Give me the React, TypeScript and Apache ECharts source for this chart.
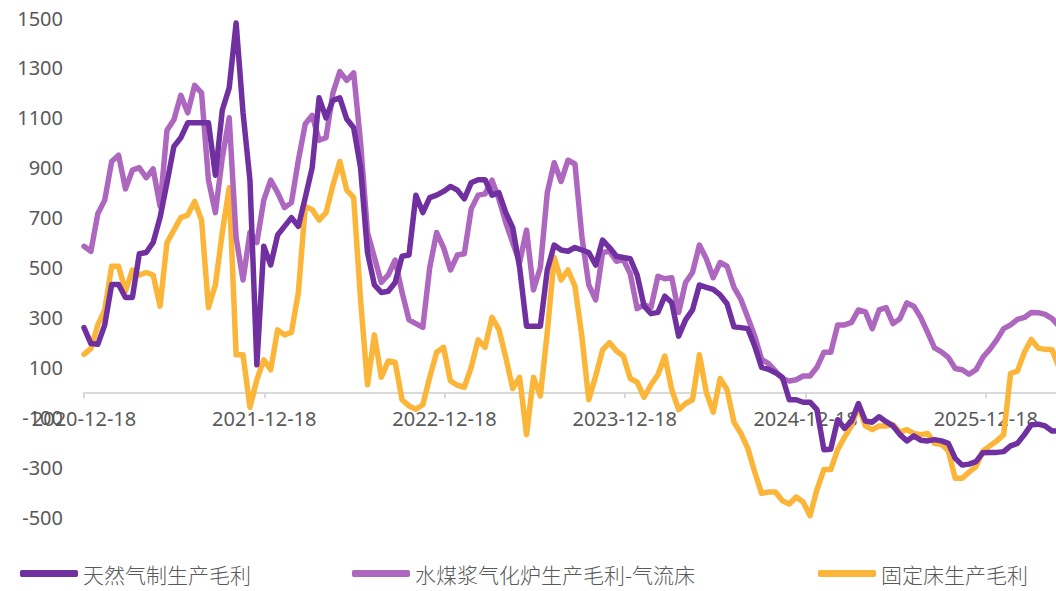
import React, { useEffect, useRef } from "react";
import * as echarts from "echarts";

const START_DATE = "2020-12-18";
const STEP_DAYS = 14;
const AXIS_END_DATE = "2026-05-09";
const xTickLabels = ["2020-12-18", "2021-12-18", "2022-12-18", "2023-12-18", "2024-12-18", "2025-12-18"];
const yTickLabels = [-500, -300, -100, 100, 300, 500, 700, 900, 1100, 1300, 1500];

const seriesNames = ["天然气制生产毛利", "水煤浆气化炉生产毛利-气流床", "固定床生产毛利"];

const naturalGas = [
  259, 195, 192, 270, 432, 432, 380, 380, 555, 560,
  600, 700, 840, 985, 1020, 1080, 1080, 1080, 1080, 870,
  1130, 1220, 1480, 1120, 850, 110, 585, 510, 630, 665,
  700, 665, 780, 900, 1180, 1100, 1170, 1180, 1095, 1060,
  900, 560, 430, 400, 405, 440, 545, 550, 790, 720,
  780, 790, 805, 825, 810, 775, 840, 852, 852, 790,
  800, 720, 660, 500, 265, 265, 265, 490, 590, 570,
  565, 580, 570, 560, 510, 610, 580, 545, 540, 535,
  470, 345, 315, 320, 385, 360, 225, 290, 330, 430,
  420, 412, 390, 355, 262, 259, 255, 185, 100, 92,
  78, 60, -30, -30, -40, -40, -70, -230, -228, -110,
  -145, -115, -45, -115, -120, -98, -118, -135, -170, -195,
  -175, -192, -195, -190, -195, -205, -265, -292, -288, -278,
  -242, -241, -241, -238, -215, -205, -170, -130, -128, -135,
  -155, -155,
];

const waterCoalSlurry = [
  585, 565, 715, 770, 925, 950, 815, 890, 900, 860,
  895, 745, 1050, 1092, 1190, 1120, 1230, 1200, 850, 720,
  940, 1100, 620, 450, 640, 600, 770, 850, 800, 740,
  760, 930, 1075, 1110, 1010, 1020, 1200, 1285, 1250, 1280,
  1000, 640, 540, 440, 470, 530, 400, 290, 275, 260,
  500, 640, 580, 490, 550, 555, 735, 790, 795, 850,
  775, 680, 600, 520, 650, 410, 500, 800, 920, 845,
  930, 915, 625, 430, 370, 560, 565, 525, 532, 475,
  335, 350, 340, 465, 455, 459, 320, 440, 480, 590,
  535, 459, 520, 505, 420, 372, 300, 225, 132, 115,
  85, 55, 45, 50, 65, 65, 100, 160, 160, 270,
  270, 280, 330, 322, 255, 330, 339, 275, 295, 358,
  345, 300, 240, 178, 162, 140, 95, 90, 72, 90,
  140, 172, 210, 255, 270, 292, 300, 320, 319, 312,
  295, 265,
];

const fixedBed = [
  152, 175, 270, 330, 505, 505, 405, 490, 470, 480,
  470, 345, 600, 650, 700, 710, 765, 690, 340, 430,
  640, 820, 150, 150, -60, 50, 130, 90, 250, 230,
  240, 400, 745, 732, 690, 720, 830, 925, 810, 780,
  370, 30, 230, 60, 125, 120, -30, -55, -68, -50,
  60, 160, 180, 45, 28, 20, 100, 210, 180, 300,
  252, 140, 15, 60, -170, 60, -15, 240, 540, 450,
  490, 425, 225, -30, 65, 170, 199, 165, 145, 55,
  40, -20, 30, 70, 145, 10, -70, -45, -30, 150,
  0, -80, 55, 10, -120, -165, -225, -320, -405, -400,
  -400, -435, -448, -420, -440, -495, -390, -310, -310, -230,
  -180, -135, -55, -135, -150, -135, -135, -130, -160, -150,
  -165, -170, -165, -205, -208, -235, -345, -345, -320, -298,
  -235, -215, -195, -170, 75, 85, 160, 212, 177, 172,
  170, 100,
];

const colors = ["#7030A0", "#AE67BF", "#FBB538"];

const DAY_MS = 86400000;
function parseDate(s: string): number {
  const [y, m, d] = s.split("-").map(Number);
  return Date.UTC(y, m - 1, d);
}
function fmtDate(v: number): string {
  const dt = new Date(v);
  const p = (n: number) => String(n).padStart(2, "0");
  return `${dt.getUTCFullYear()}-${p(dt.getUTCMonth() + 1)}-${p(dt.getUTCDate())}`;
}

const startTs = parseDate(START_DATE);
const dates = naturalGas.map((_, i) => startTs + i * STEP_DAYS * DAY_MS);
const xTickValues = xTickLabels.map(parseDate);

const GRID_TOP = 18;
const GRID_BOTTOM = 74;
const CHART_H = 591;

export default function App() {
  const ref = useRef<HTMLDivElement>(null);
  useEffect(() => {
    if (!ref.current) return;
    const chart = echarts.init(ref.current, undefined, { renderer: "svg" });
    const textColor = "#595959";
    const values = [naturalGas, waterCoalSlurry, fixedBed];
    const legendLefts = [20, 352, 818];
    const yMin = yTickLabels[0];
    const yMax = yTickLabels[yTickLabels.length - 1];
    const gridH = CHART_H - GRID_TOP - GRID_BOTTOM;
    // distance from grid bottom (y = yMin) up to the zero line
    const zeroOffset = ((0 - yMin) / (yMax - yMin)) * gridH;
    chart.setOption({
      animation: false,
      color: colors,
      grid: { left: 84, right: 0, top: GRID_TOP, bottom: GRID_BOTTOM, containLabel: false },
      legend: seriesNames.map((n, i) => ({
        data: [n],
        left: legendLefts[i],
        top: 563,
        padding: 0,
        icon: "roundRect",
        itemWidth: 58,
        itemHeight: 7,
        itemGap: 4,
        textStyle: {
          color: textColor,
          fontSize: 21,
          fontWeight: 300,
          fontFamily: "Noto Sans CJK SC",
        },
      })),
      xAxis: {
        type: "value",
        min: startTs,
        max: parseDate(AXIS_END_DATE),
        offset: -zeroOffset,
        axisLine: { onZero: false, lineStyle: { color: "#D9D9D9", width: 2 } },
        axisTick: { show: true, length: 6, customValues: xTickValues, lineStyle: { color: "#D9D9D9", width: 2 } },
        axisLabel: {
          customValues: xTickValues,
          formatter: (v: number) => fmtDate(v),
          color: textColor,
          fontSize: 20,
          margin: 16,
          fontFamily: "Noto Sans",
        },
        splitLine: { show: false },
      },
      yAxis: {
        type: "value",
        min: yMin,
        max: yMax,
        interval: 200,
        axisLine: { show: false },
        axisTick: { show: false },
        splitLine: { show: false },
        axisLabel: {
          color: textColor,
          fontSize: 20,
          margin: 21,
          fontFamily: "Noto Sans",
          formatter: (v: number) => String(v),
        },
      },
      series: seriesNames.map((n, i) => ({
        name: n,
        type: "line",
        data: values[i].map((v, k) => [dates[k], v]),
        showSymbol: false,
        symbol: "none",
        lineStyle: { width: 5.5, color: colors[i], cap: "round", join: "round" },
        itemStyle: { color: colors[i] },
        z: i === 0 ? 4 : i === 1 ? 3 : 2,
      })),
    });
    return () => chart.dispose();
  }, []);
  return <div ref={ref} style={{ position: "absolute", left: 0, top: 0, width: 1056, height: 591 }} />;
}
